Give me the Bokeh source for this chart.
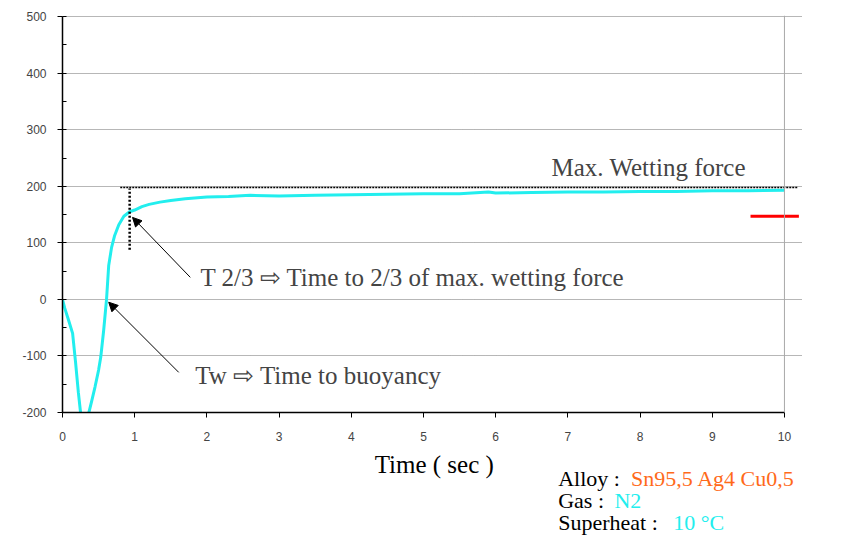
from bokeh.plotting import figure
from bokeh.layouts import column
from bokeh.models import Range1d, SingleIntervalTicker, FixedTicker, Span, Arrow, NormalHead, Label
from bokeh.embed import file_html
from bokeh.resources import INLINE

# ---- data ----
time_s = [0, 0.03, 0.08, 0.14, 0.18, 0.22, 0.25, 0.3, 0.35, 0.4, 0.45, 0.5, 0.53, 0.57,
          0.61, 0.64, 0.68, 0.72, 0.78, 0.85, 0.93, 1.0, 1.1, 1.2, 1.35, 1.5, 1.7, 2.0,
          2.3, 2.6, 3.0, 3.5, 4.0, 4.5, 5.0, 5.5, 5.9, 6.0, 6.5, 7.0, 7.5, 8.0, 8.5,
          9.0, 9.5, 10.0]
force = [0, -15, -35, -60, -110, -165, -200, -218, -208, -182, -155, -125, -102, -55,
         0, 60, 92, 112, 132, 147, 155, 158, 164, 168, 172, 175, 178, 181,
         182, 184, 183, 184, 185, 186, 187, 187, 190, 188, 189, 190, 190, 191, 191,
         192, 192, 193]

x_ticks = [0, 1, 2, 3, 4, 5, 6, 7, 8, 9, 10]
y_tick_interval = 100
y_label_overrides = {-200: "-200", -100: "-100"}
x_title = "Time ( sec )"

max_force = 198
max_line_t = [0.8, 10.18]
t23 = 0.93
t23_marker_force = [88, 196]
red_marker_t = [9.53, 10.2]
red_marker_force = 147

# annotation arrows: (t_start, f_start, t_end, f_end)
arrow_t23 = (1.77, 39, 0.97, 145)
arrow_tw = (1.61, -129, 0.64, -5)

info_heads = ["Alloy : ", "Gas : ", "Superheat : "]
info_values = ["Sn95,5 Ag4 Cu0,5", "N2", "10 \u00b0C"]
info_colors = ["#FF6A1A", "#22EEEE", "#22EEEE"]

p = figure(output_backend="svg", toolbar_location=None,
           x_range=Range1d(0, 10.25), y_range=Range1d(-200, 502),
           frame_width=740, frame_height=397,
           min_border_left=62, min_border_right=40,
           min_border_top=15, min_border_bottom=34)
p.outline_line_color = None

# grid
p.xgrid.grid_line_color = None
p.ygrid.grid_line_color = "#6e6e6e"
p.ygrid.grid_line_dash = "1 1"
p.ygrid.grid_line_width = 1

# axes
xa = p.xaxis[0]
xa.ticker = FixedTicker(ticks=x_ticks)
xa.bounds = (0, 10)
xa.axis_line_color = "black"
xa.axis_line_width = 1.5
xa.major_tick_in = 0
xa.major_tick_out = 5
xa.minor_tick_line_color = None
xa.major_label_text_font = "Liberation Sans"
xa.major_label_text_font_size = "12px"
xa.major_label_standoff = 14

ya = p.yaxis[0]
ya.ticker = SingleIntervalTicker(interval=y_tick_interval, num_minor_ticks=2)
ya.bounds = (-200, 500)
ya.axis_line_color = "black"
ya.axis_line_width = 1.5
ya.major_tick_in = 0
ya.major_tick_out = 5
ya.minor_tick_in = 4
ya.minor_tick_out = 0
ya.major_label_text_font = "Liberation Sans"
ya.major_label_text_font_size = "12px"
ya.major_label_standoff = 11
ya.major_label_overrides = y_label_overrides

# right border of plot area
p.add_layout(Span(location=10, dimension="height", line_color="#a8a8a8", line_width=1))

# curve
p.line(time_s, force, line_color="#22EEEE", line_width=3)

# max wetting force line and T 2/3 marker
p.line(max_line_t, [max_force, max_force], line_color="black", line_width=1.5, line_dash="2 1")
p.line([t23, t23], t23_marker_force, line_color="black", line_width=2.5, line_dash="2 2")

# red marker
p.line(red_marker_t, [red_marker_force, red_marker_force], line_color="#FF0000", line_width=3)

# arrows
for a in (arrow_t23, arrow_tw):
    p.add_layout(Arrow(x_start=a[0], y_start=a[1], x_end=a[2], y_end=a[3],
                       line_color="black", line_width=1,
                       end=NormalHead(size=9, line_color="black", fill_color="black")))

serif = "Liberation Serif"
p.add_layout(Label(x=8.12, y=233, text="Max. Wetting force", text_align="center",
                   text_baseline="middle", text_font=serif, text_font_size="25px"))
p.add_layout(Label(x=1.91, y=39, text="T 2/3 \u21e8 Time to 2/3 of max. wetting force",
                   text_align="left", text_baseline="middle", text_font=serif,
                   text_font_size="25px"))
p.add_layout(Label(x=1.84, y=-134, text="Tw \u21e8 Time to buoyancy",
                   text_align="left", text_baseline="middle", text_font=serif,
                   text_font_size="25px"))

# lower text panel: x-axis title and the info block (pixel coordinates)
q = figure(output_backend="svg", toolbar_location=None, width=842, height=98,
           x_range=Range1d(0, 842), y_range=Range1d(0, 98),
           x_axis_location=None, y_axis_location=None,
           min_border=0, min_border_left=0, min_border_right=0,
           min_border_top=0, min_border_bottom=0)
q.outline_line_color = None
q.grid.visible = False
q.add_layout(Label(x=423, y=80, text=x_title, text_align="center", text_baseline="middle",
                   text_font=serif, text_font_size="25px", text_color="black"))
row_y = [66, 44, 22]
head_x = 564
value_x = [647, 628, 695]
for head, val, col, yv, xv in zip(info_heads, info_values, info_colors, row_y, value_x):
    q.add_layout(Label(x=head_x, y=yv, text=head, text_align="left", text_baseline="middle",
                       text_font=serif, text_font_size="22px", text_color="black"))
    q.add_layout(Label(x=xv, y=yv, text=val, text_align="left", text_baseline="middle",
                       text_font=serif, text_font_size="22px", text_color=col))

layout = column(p, q, spacing=0)
open("out.html", "w").write(file_html(layout, INLINE))
